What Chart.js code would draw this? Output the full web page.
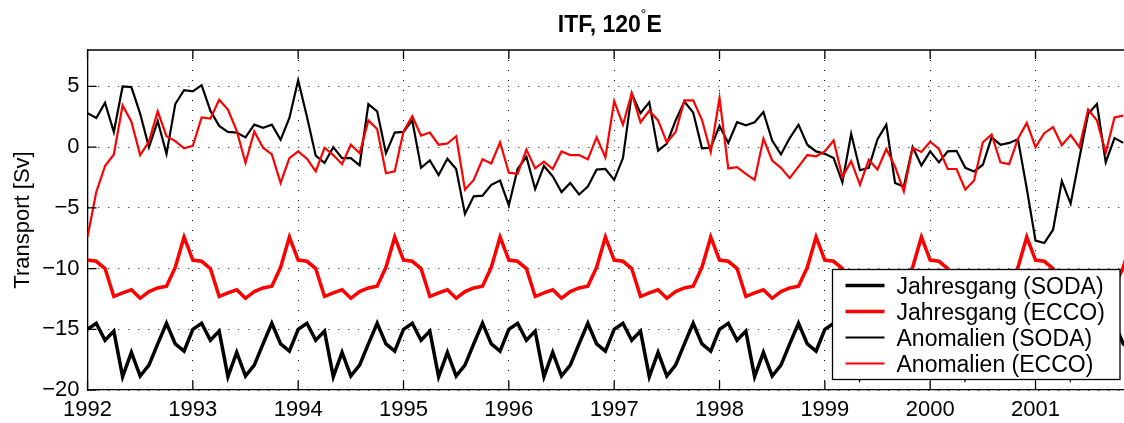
<!DOCTYPE html>
<html>
<head>
<meta charset="utf-8">
<script src="https://cdn.jsdelivr.net/npm/chart.js@4.4.0/dist/chart.umd.min.js"></script>
<style>
  html, body { margin: 0; padding: 0; background: #fff; overflow: hidden; }
  canvas { display: block; }
</style>
</head>
<body>
<canvas id="itf" width="1124" height="423"></canvas>
<script>
// monthly values, Jan 1992 .. Dec 2001
const startYear = 1992;
const xTicks = [1992, 1993, 1994, 1995, 1996, 1997, 1998, 1999, 2000, 2001];
const yTicks = [-20, -15, -10, -5, 0, 5];
const months = Array.from({ length: 120 }, (_, i) => startYear + i / 12);

const seriesLabels = ['Jahresgang (SODA)', 'Jahresgang (ECCO)', 'Anomalien (SODA)', 'Anomalien (ECCO)'];

const jahresgangSoda = [
  -15.0, -14.5, -15.9, -15.15, -18.9, -16.9, -18.85, -17.95, -16.2, -14.5, -16.2, -16.8,
  -15.0, -14.5, -15.9, -15.15, -18.9, -16.9, -18.85, -17.95, -16.2, -14.5, -16.2, -16.8,
  -15.0, -14.5, -15.9, -15.15, -18.9, -16.9, -18.85, -17.95, -16.2, -14.5, -16.2, -16.8,
  -15.0, -14.5, -15.9, -15.15, -18.9, -16.9, -18.85, -17.95, -16.2, -14.5, -16.2, -16.8,
  -15.0, -14.5, -15.9, -15.15, -18.9, -16.9, -18.85, -17.95, -16.2, -14.5, -16.2, -16.8,
  -15.0, -14.5, -15.9, -15.15, -18.9, -16.9, -18.85, -17.95, -16.2, -14.5, -16.2, -16.8,
  -15.0, -14.5, -15.9, -15.15, -18.9, -16.9, -18.85, -17.95, -16.2, -14.5, -16.2, -16.8,
  -15.0, -14.5, -15.9, -15.15, -18.9, -16.9, -18.85, -17.95, -16.2, -14.5, -16.2, -16.8,
  -15.0, -14.5, -15.9, -15.15, -18.9, -16.9, -18.85, -17.95, -16.2, -14.5, -16.2, -16.8,
  -15.0, -14.5, -15.9, -15.15, -18.9, -16.9, -18.85, -17.95, -16.2, -14.5, -16.2, -16.8
];

const jahresgangEcco = [
  -9.3, -9.4, -10.0, -12.3, -12.0, -11.75, -12.45, -11.9, -11.6, -11.45, -9.9, -7.4,
  -9.3, -9.4, -10.0, -12.3, -12.0, -11.75, -12.45, -11.9, -11.6, -11.45, -9.9, -7.4,
  -9.3, -9.4, -10.0, -12.3, -12.0, -11.75, -12.45, -11.9, -11.6, -11.45, -9.9, -7.4,
  -9.3, -9.4, -10.0, -12.3, -12.0, -11.75, -12.45, -11.9, -11.6, -11.45, -9.9, -7.4,
  -9.3, -9.4, -10.0, -12.3, -12.0, -11.75, -12.45, -11.9, -11.6, -11.45, -9.9, -7.4,
  -9.3, -9.4, -10.0, -12.3, -12.0, -11.75, -12.45, -11.9, -11.6, -11.45, -9.9, -7.4,
  -9.3, -9.4, -10.0, -12.3, -12.0, -11.75, -12.45, -11.9, -11.6, -11.45, -9.9, -7.4,
  -9.3, -9.4, -10.0, -12.3, -12.0, -11.75, -12.45, -11.9, -11.6, -11.45, -9.9, -7.4,
  -9.3, -9.4, -10.0, -12.3, -12.0, -11.75, -12.45, -11.9, -11.6, -11.45, -9.9, -7.4,
  -9.3, -9.4, -10.0, -12.3, -12.0, -11.75, -12.45, -11.9, -11.6, -11.45, -9.9, -7.4
];

const anomalienSoda = [
  2.8, 2.4, 3.65, 1.25, 5.0, 4.95, 2.75, 0.0, 2.15, -0.55, 3.55, 4.7,
  4.6, 5.1, 3.0, 1.75, 1.25, 1.2, 0.8, 1.85, 1.6, 1.85, 0.6, 2.4,
  5.5, 2.5, -0.7, -1.3, 0.0, -0.9, -0.9, -1.5, 3.55, 2.95, -0.5, 1.2,
  1.25, 2.2, -1.7, -1.1, -2.3, -0.95, -1.8, -5.5, -4.05, -4.0, -3.1, -2.75,
  -4.8, -1.8, -0.8, -3.45, -1.55, -2.4, -3.7, -2.95, -3.9, -3.25, -1.85, -1.8,
  -2.7, -0.9, 4.4, 2.8, 3.7, -0.3, 0.3, 2.2, 3.75, 2.85, -0.1, -0.05,
  1.75, 0.35, 2.05, 1.8, 2.05, 2.9, 0.55, -0.6, 0.75, 1.85, 0.2, -0.35,
  -0.55, -0.9, -2.9, 1.1, -1.9, -1.7, 0.65, 1.85, -2.95, -3.25, 0.0, -1.5,
  -0.35, -1.25, -0.35, -0.3, -1.7, -2.0, -1.45, 0.8, 0.2, 0.35, 0.65, -3.4,
  -7.7, -7.9, -6.8, -2.8, -4.65, -0.9, 2.75, 3.55, -1.25, 0.75, 0.35
];

const anomalienEcco = [
  -7.4, -3.7, -1.55, -0.6, 3.45, 2.1, -0.65, 0.45, 2.95, 0.9, 0.5, -0.1,
  0.1, 2.45, 2.35, 3.9, 3.1, 1.35, -1.3, 1.3, -0.05, -0.6, -2.95, -0.9,
  -0.35, -0.95, -2.0, -0.05, -0.65, -1.4, 0.2, -0.5, 2.2, 1.5, -2.15, -2.0,
  1.3, 2.55, 0.95, 1.2, 0.2, 0.3, 0.9, -3.5, -2.7, -1.0, -1.35, 0.4,
  -2.1, -2.2, -0.2, -1.75, -1.2, -1.8, -0.35, -0.65, -0.65, -1.0, 0.8, -0.85,
  3.8, 1.85, 4.45, 2.05, 3.0, 2.2, 0.4, 1.25, 3.85, 3.85, 2.25, -0.4,
  4.05, -1.75, -1.65, -2.2, -2.7, 0.7, -1.1, -1.7, -2.55, -1.6, -0.65, -0.75,
  -0.35, 0.55, -2.45, -1.15, -3.1, -1.05, -1.85, -0.15, -1.6, -3.65, -0.05, -0.4,
  0.45, -0.15, -1.8, -1.8, -3.5, -2.75, 0.4, 1.05, -1.25, -1.4, 0.7, 2.0,
  0.0, 1.15, 1.65, 0.15, 1.0, 0.0, 3.1, 2.2, -0.45, 2.45, 2.6
];

const FONT = "'Liberation Sans', Arial, Helvetica, sans-serif";

function toPoints(values) {
  return values.map((v, i) => ({ x: months[i], y: v }));
}

// top frame line and inward tick marks (matlab style)
const frameTicks = {
  id: 'frameTicks',
  afterDatasetsDraw(chart) {
    const { ctx, chartArea: a, scales } = chart;
    ctx.save();
    ctx.strokeStyle = '#000';
    ctx.lineWidth = 1.3;
    ctx.beginPath();
    ctx.moveTo(a.left, a.top);
    ctx.lineTo(a.right, a.top);
    scales.x.ticks.forEach(t => {
      const px = scales.x.getPixelForValue(t.value);
      ctx.moveTo(px, a.bottom);
      ctx.lineTo(px, a.bottom - 9);
      ctx.moveTo(px, a.top);
      ctx.lineTo(px, a.top + 9);
    });
    scales.y.ticks.forEach(t => {
      const py = scales.y.getPixelForValue(t.value);
      ctx.moveTo(a.left, py);
      ctx.lineTo(a.left + 9, py);
    });
    ctx.stroke();
    ctx.restore();
  }
};

// "ITF, 120°E" with superscript degree, centred on the full time span
const plotTitle = {
  id: 'plotTitle',
  afterDraw(chart) {
    const { ctx, scales } = chart;
    const centre = scales.x.getPixelForValue((months[0] + months[months.length - 1]) / 2);
    const main = 'ITF, 120';
    const deg = '°';
    const tail = 'E';
    ctx.save();
    ctx.fillStyle = '#000';
    ctx.textBaseline = 'alphabetic';
    ctx.font = 'bold 23px ' + FONT;
    const w1 = ctx.measureText(main).width;
    const w3 = ctx.measureText(tail).width;
    ctx.font = '14px ' + FONT;
    const w2 = ctx.measureText(deg).width;
    const total = w1 + w2 + w3;
    let x = centre - total / 2;
    const base = 32;
    ctx.font = 'bold 23px ' + FONT;
    ctx.fillText(main, x, base);
    x += w1;
    ctx.font = '14px ' + FONT;
    ctx.fillText(deg, x, base - 13);
    x += w2;
    ctx.font = 'bold 23px ' + FONT;
    ctx.fillText(tail, x, base);
    ctx.restore();
  }
};

// boxed legend in the lower right of the axes
const boxLegend = {
  id: 'boxLegend',
  afterDraw(chart) {
    const { ctx, chartArea: a } = chart;
    const right = a.right - 4;
    const left = 832.5;
    const top = 269.5;
    const bottom = 379.5;
    ctx.save();
    ctx.fillStyle = '#fff';
    ctx.fillRect(left, top, right - left, bottom - top);
    ctx.strokeStyle = '#000';
    ctx.lineWidth = 1.3;
    ctx.strokeRect(left, top, right - left, bottom - top);
    ctx.font = '23px ' + FONT;
    ctx.textBaseline = 'alphabetic';
    chart.data.datasets.forEach((ds, k) => {
      const cy = top + 16 + k * 26;
      ctx.strokeStyle = ds.borderColor;
      ctx.lineWidth = ds.borderWidth;
      ctx.beginPath();
      ctx.moveTo(left + 13, cy);
      ctx.lineTo(left + 52, cy);
      ctx.stroke();
      ctx.fillStyle = '#000';
      ctx.fillText(ds.label, left + 64, cy + 8);
    });
    ctx.restore();
  }
};

const ctx = document.getElementById('itf').getContext('2d');

new Chart(ctx, {
  type: 'line',
  data: {
    datasets: [
      { label: seriesLabels[0], data: toPoints(jahresgangSoda), borderColor: '#000000', borderWidth: 3.5, order: 3 },
      { label: seriesLabels[1], data: toPoints(jahresgangEcco), borderColor: '#ff0000', borderWidth: 3.5, order: 2 },
      { label: seriesLabels[2], data: toPoints(anomalienSoda), borderColor: '#000000', borderWidth: 2.2, order: 1 },
      { label: seriesLabels[3], data: toPoints(anomalienEcco), borderColor: '#ff0000', borderWidth: 2.2, order: 0 }
    ]
  },
  options: {
    responsive: false,
    animation: false,
    devicePixelRatio: 1,
    layout: { padding: { top: 50, right: 0, bottom: 0, left: 0 } },
    elements: {
      point: { radius: 0, hoverRadius: 0 },
      line: { tension: 0, fill: false }
    },
    plugins: {
      legend: { display: false },
      tooltip: { enabled: false },
      title: { display: false }
    },
    scales: {
      x: {
        type: 'linear',
        min: 1992,
        max: 2001.84,
        afterBuildTicks: axis => { axis.ticks = xTicks.map(v => ({ value: v })); },
        afterFit: axis => { axis.height = 33; },
        grid: { color: '#000', lineWidth: 1, drawTicks: false },
        border: { display: true, color: '#000', width: 1.3, dash: [1, 9] },
        ticks: {
          color: '#000',
          font: { family: FONT, size: 22 },
          padding: 7,
          maxRotation: 0,
          autoSkip: false,
          callback: v => String(v)
        }
      },
      y: {
        min: -20,
        max: 8,
        afterBuildTicks: axis => { axis.ticks = yTicks.map(v => ({ value: v })); },
        afterFit: axis => { axis.width = 87.5; },
        grid: { color: '#000', lineWidth: 1, drawTicks: false },
        border: { display: true, color: '#000', width: 1.3, dash: [1, 9] },
        ticks: {
          color: '#000',
          font: { family: FONT, size: 22 },
          padding: 8,
          callback: v => String(v).replace('-', '\u2212')
        },
        title: {
          display: true,
          text: 'Transport [Sv]',
          color: '#000',
          font: { family: FONT, size: 22 },
          padding: { top: 10, bottom: 0 }
        }
      }
    }
  },
  plugins: [frameTicks, plotTitle, boxLegend]
});
</script>
</body>
</html>
